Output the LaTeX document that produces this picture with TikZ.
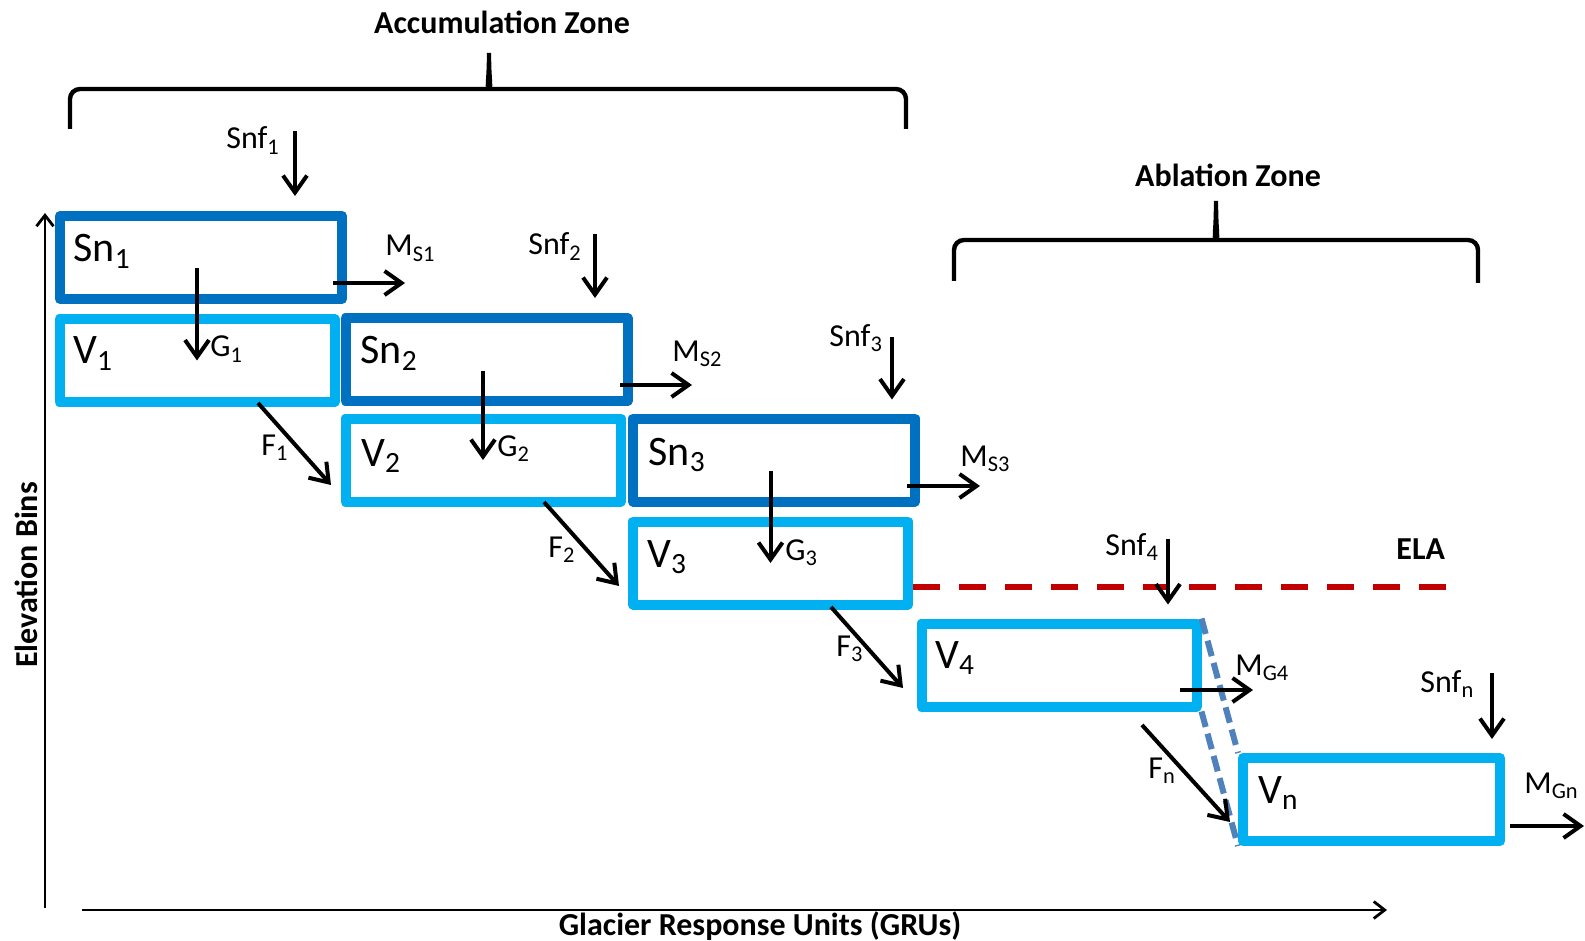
\documentclass[tikz,border=0pt]{standalone}
\usepackage{fontspec}
\setmainfont{Carlito}
\usetikzlibrary{arrows.meta}

\definecolor{snblue}{RGB}{0,112,192}
\definecolor{vblue}{RGB}{0,176,240}
\definecolor{elared}{RGB}{192,0,0}
\definecolor{linkblue}{RGB}{79,129,189}

\begin{document}
\begin{tikzpicture}[x=0.5pt, y=-0.5pt,
  snbox/.style={draw=snblue, line width=5pt, line join=round, minimum width=141pt, minimum height=41.5pt, inner sep=0pt},
  vbox/.style={draw=vblue, line width=5pt, line join=round, minimum width=137.5pt, minimum height=41.5pt, inner sep=0pt},
  flow/.style={line width=2pt, -{Straight Barb[length=8.5pt,width=12pt]}},
  axis/.style={line width=1.4pt, -{Straight Barb[length=5.5pt,width=8.5pt]}},
  brace/.style={line width=2.2pt, rounded corners=5pt},
  lbl/.style={anchor=base west, inner sep=0pt, font=\fontsize{16}{18}\selectfont},
  boxlbl/.style={anchor=base west, inner sep=0pt, font=\fontsize{21}{24}\selectfont},
  zone/.style={inner sep=0pt, font=\bfseries\fontsize{16}{18}\selectfont}]
  \useasboundingbox (0,0) rectangle (1585,941);

  % axes
  \coordinate (ybot) at (45,908);
  \coordinate (ytop) at (45,213);
  \coordinate (xleft) at (82,910);
  \coordinate (xright) at (1387,910);
  \draw[axis] (ybot) -- (ytop);
  \draw[axis] (xleft) -- (xright);
  \node[zone] (gru) at (760,926) {Glacier Response Units (GRUs)};
  \node[zone, rotate=90] (elev) at (26,575) {Elevation Bins};

  % zones
  \node[zone] (acc) at (502,22) {Accumulation Zone};
  \draw[brace] (70,129) -- (70,89) -- (480,89) .. controls (486,89) and (489,82) .. (489,47)
        .. controls (489,82) and (492,89) .. (498,89) -- (906,89) -- (906,129);
  \node[zone] (abl) at (1228,175) {Ablation Zone};
  \draw[brace] (954,281) -- (954,240) -- (1207,240) .. controls (1213,240) and (1216,233) .. (1216,195)
        .. controls (1216,233) and (1219,240) .. (1225,240) -- (1478,240) -- (1478,283);

  % bins: snow on top, ice below
  \node[snbox] (sn1) at (201,257.5) {};
  \node[vbox] (v1) at (197,360.5) {};
  \node[snbox] (sn2) at (486.5,359.5) {};
  \node[vbox] (v2) at (483,460) {};
  \node[snbox] (sn3) at (774,460) {};
  \node[vbox] (v3) at (770.5,563) {};
  \node[vbox] (v4) at (1059,665) {};
  \node[vbox, minimum width=128.5pt] (vn) at (1371.5,799.5) {};

  \node[boxlbl] (sn1lab) at (73,262) {Sn\textsubscript{1}};
  \node[boxlbl] (v1lab) at (73,364) {V\textsubscript{1}};
  \node[boxlbl] (sn2lab) at (360,364) {Sn\textsubscript{2}};
  \node[boxlbl] (v2lab) at (361,466) {V\textsubscript{2}};
  \node[boxlbl] (sn3lab) at (648,465) {Sn\textsubscript{3}};
  \node[boxlbl] (v3lab) at (647,567) {V\textsubscript{3}};
  \node[boxlbl] (v4lab) at (935,668) {V\textsubscript{4}};
  \node[boxlbl] (vnlab) at (1258,803) {V\textsubscript{n}};

  % skipped bins
  \draw[linkblue, line width=3pt, dash pattern=on 8pt off 3.5pt] (v4.north east) -- (vn.north west);
  \draw[linkblue, line width=3pt, dash pattern=on 8pt off 3.5pt] (v4.south east) -- (vn.south west);

  % equilibrium line
  \coordinate (ela) at (1456,587);
  \draw[elared, line width=3pt, dash pattern=on 13.5pt off 9.5pt] (v3.east |- ela) -- (ela);
  \node[zone, anchor=base west] (elalab) at (1396,559) {ELA};

  % snowfall
  \coordinate (snf1) at (295,131);
  \coordinate (snf2) at (595,234);
  \coordinate (snf3) at (892,337);
  \coordinate (snf4) at (1168,539);
  \coordinate (snfn) at (1492,673);
  \draw[flow, shorten >=7.5pt] (snf1) -- (snf1 |- sn1.north);
  \draw[flow, shorten >=7.5pt] (snf2) -- (snf2 |- sn2.north);
  \draw[flow, shorten >=7pt] (snf3) -- (snf3 |- sn3.north);
  \draw[flow, shorten >=7pt] (snf4) -- (snf4 |- v4.north);
  \draw[flow, shorten >=7pt] (snfn) -- (snfn |- vn.north);
  \node[lbl] (snf1lab) at (226,149) {Snf\textsubscript{1}};
  \node[lbl] (snf2lab) at (528,255) {Snf\textsubscript{2}};
  \node[lbl] (snf3lab) at (829,346) {Snf\textsubscript{3}};
  \node[lbl] (snf4lab) at (1105,555) {Snf\textsubscript{4}};
  \node[lbl] (snfnlab) at (1420,692) {Snf\textsubscript{n}};

  % snow to ice
  \draw[flow, shorten <=5.5pt] (sn1.center -| v1.center) -- (v1.center);
  \draw[flow, shorten <=5.5pt] (sn2.center -| v2.center) -- (v2.center);
  \draw[flow, shorten <=5.5pt] (sn3.center -| v3.center) -- (v3.center);
  \node[lbl] (g1lab) at (210,357) {G\textsubscript{1}};
  \node[lbl] (g2lab) at (497,456) {G\textsubscript{2}};
  \node[lbl] (g3lab) at (785,560) {G\textsubscript{3}};

  % melt
  \coordinate (ms1a) at (333,283);   \coordinate (ms1b) at (405,283);
  \coordinate (ms2a) at (620,385);   \coordinate (ms2b) at (692,385);
  \coordinate (ms3a) at (907,486);   \coordinate (ms3b) at (980,486);
  \coordinate (mg4a) at (1180,690);  \coordinate (mg4b) at (1253,690);
  \coordinate (mgna) at (1510,826);  \coordinate (mgnb) at (1584,826);
  \draw[flow] (ms1a) -- (ms1b);
  \draw[flow] (ms2a) -- (ms2b);
  \draw[flow] (ms3a) -- (ms3b);
  \draw[flow] (mg4a) -- (mg4b);
  \draw[flow] (mgna) -- (mgnb);
  \node[lbl] (ms1lab) at (385,256) {M\textsubscript{S1}};
  \node[lbl] (ms2lab) at (672,361) {M\textsubscript{S2}};
  \node[lbl] (ms3lab) at (960,466) {M\textsubscript{S3}};
  \node[lbl] (mg4lab) at (1235,675) {M\textsubscript{G4}};
  \node[lbl] (mgnlab) at (1524,793) {M\textsubscript{Gn}};

  % ice flow down the glacier
  \coordinate (f1a) at (258,403);   \coordinate (f1b) at (331,485);
  \coordinate (f2a) at (544,502);   \coordinate (f2b) at (619,586);
  \coordinate (f3a) at (831,607);   \coordinate (f3b) at (903,688);
  \coordinate (fna) at (1142,725);  \coordinate (fnb) at (1230,822);
  \draw[flow] (f1a) -- (f1b);
  \draw[flow] (f2a) -- (f2b);
  \draw[flow] (f3a) -- (f3b);
  \draw[flow] (fna) -- (fnb);
  \node[lbl] (f1lab) at (261,455) {F\textsubscript{1}};
  \node[lbl] (f2lab) at (548,557) {F\textsubscript{2}};
  \node[lbl] (f3lab) at (836,656) {F\textsubscript{3}};
  \node[lbl] (fnlab) at (1148,778) {F\textsubscript{n}};
\end{tikzpicture}
\end{document}
